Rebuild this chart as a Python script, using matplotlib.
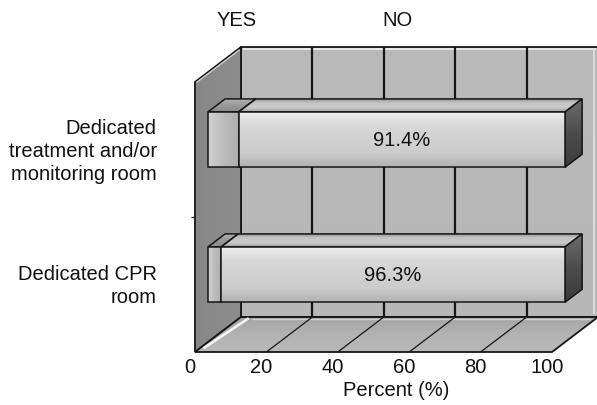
import numpy as np
import matplotlib.pyplot as plt
from matplotlib.patches import Polygon
from matplotlib.colors import LinearSegmentedColormap
from matplotlib.transforms import ScaledTranslation

# survey answers, bottom category first
categories = ["Dedicated CPR\nroom", "Dedicated\ntreatment and/or\nmonitoring room"]
yes_pct = [3.7, 8.6]
no_pct = [96.3, 91.4]
series = ["YES", "NO"]
xticks = [0, 20, 40, 60, 80, 100]

plt.rcParams["font.family"] = ["Liberation Sans", "DejaVu Sans"]
FS = 14.5

# oblique offset of one full unit of depth, in data units (x in %, y in categories)
DX, DY = 12.88, 0.259
Z_FRONT, Z_BACK = 0.283, 0.655
BAR_H = 0.41
EDGE = "#161616"


def proj(x, y, z):
    return (x + DX * z, y + DY * z)


fig = plt.figure(figsize=(5.97, 4.06), dpi=100)
ax = fig.add_axes([195 / 597, 53 / 406, 357 / 597, 270 / 406])
ax.set_facecolor("none")
for s in ax.spines.values():
    s.set_visible(False)

zo = [1.0]


def face(pts, colors, vertical=True, lw=1.1):
    """Flat or gradient-filled polygon with a dark outline."""
    z = zo[0]
    zo[0] += 0.3
    pts = np.asarray(pts)
    base = Polygon(pts, closed=True, facecolor=colors[-1], edgecolor="none",
                   clip_on=False, zorder=z)
    ax.add_patch(base)
    if len(colors) > 1:
        x0, y0 = pts.min(axis=0)
        x1, y1 = pts.max(axis=0)
        cmap = LinearSegmentedColormap.from_list("g", colors)
        grad = np.linspace(0, 1, 128)
        grad = grad[:, None] if vertical else grad[None, :]
        im = ax.imshow(grad, cmap=cmap, extent=(x0, x1, y0, y1), origin="upper",
                       aspect="auto", interpolation="bilinear", zorder=z + 0.1)
        im.set_clip_box(fig.bbox)
        im.set_clip_path(base)
    ax.add_patch(Polygon(pts, closed=True, facecolor="none", edgecolor=EDGE,
                         lw=lw, clip_on=False, zorder=z + 0.2, joinstyle="miter"))


def line(p, q, color=EDGE, lw=1.0):
    z = zo[0]
    zo[0] += 0.3
    ax.plot([p[0], q[0]], [p[1], q[1]], color=color, lw=lw, clip_on=False,
            zorder=z, solid_capstyle="butt")


n = len(categories)

# back wall with its gridlines
face([proj(0, 0, 1), proj(100, 0, 1), proj(100, n, 1), proj(0, n, 1)],
     ["#bababa", "#b7b7b7"], lw=1.3)
line(proj(0.5, n - 0.015, 1), proj(99.4, n - 0.015, 1), color="#f0f0f0", lw=1.2)
line(proj(99.0, n - 0.02, 1), proj(99.0, 0.02, 1), color="#e4e4e4", lw=1.2)
for v in xticks[1:-1]:
    line(proj(v, 0, 1), proj(v, n, 1), lw=1.6)

# side wall
face([proj(0, 0, 0), proj(0, 0, 1), proj(0, n, 1), proj(0, n, 0)],
     ["#878787", "#8d8d8d"], vertical=False, lw=1.3)
line(proj(0, n - 0.012, 0.03), proj(0, n - 0.012, 0.97), color="#cfcfcf", lw=1.0)

# floor with its gridlines
face([proj(0, 0, 0), proj(100, 0, 0), proj(100, 0, 1), proj(0, 0, 1)],
     ["#a4a4a4", "#b3b3b3", "#b8b8b8"], lw=1.3)
line(proj(1.6, 0.012, 0.06), proj(3.2, 0.012, 0.92), color="#f6f6f6", lw=1.8)
line(proj(4, 0.003, 0.93), proj(99, 0.003, 0.93), color="#cfcfcf", lw=1.0)
for v in xticks[1:-1]:
    line(proj(v, 0, 0), proj(v, 0, 1), lw=0.9)

# stacked 3-D bars
styles = [
    (["#b4b4b4", "#9a9a9a", "#8a8a8a"], ["#d2d2d2", "#bcbcbc", "#adadad"]),
    (["#8a8a8a", "#c4c4c4", "#cbcbcb", "#a2a2a2"],
     ["#f0f0f0", "#d8d8d8", "#d2d2d2", "#cccccc", "#b2b2b2"]),
]
for i in range(n):
    y0 = i + 0.5 - BAR_H / 2
    y1 = i + 0.5 + BAR_H / 2
    segs = [(0, yes_pct[i]), (yes_pct[i], yes_pct[i] + no_pct[i])]
    for (a, b), (top_c, front_c) in zip(segs, styles):
        face([proj(a, y1, Z_FRONT), proj(b, y1, Z_FRONT),
              proj(b, y1, Z_BACK), proj(a, y1, Z_BACK)], top_c)
        face([proj(b, y0, Z_FRONT), proj(b, y0, Z_BACK),
              proj(b, y1, Z_BACK), proj(b, y1, Z_FRONT)],
             ["#6e6e6e", "#4c4c4c", "#3c3c3c"])
        face([proj(a, y0, Z_FRONT), proj(b, y0, Z_FRONT),
              proj(b, y1, Z_FRONT), proj(a, y1, Z_FRONT)],
             front_c, vertical=(a > 0))
    a, b = segs[1]
    cx, cy = proj((a + b) / 2, i + 0.5, Z_FRONT)
    ax.text(cx, cy, f"{no_pct[i]:.1f}%", ha="center", va="center",
            fontsize=FS, color="#111111", zorder=zo[0] + 1)

ax.set_xlim(0, 100)
ax.set_ylim(0, n)

ax.set_xticks(xticks, [str(v) for v in xticks])
ax.set_yticks([i + 0.5 for i in range(n)], categories)
ax.set_yticks([1], minor=True)
ax.tick_params(axis="x", length=0, pad=3.5, labelsize=FS, labelcolor="#111111")
ax.tick_params(axis="y", which="major", length=0, pad=27.5, labelsize=FS,
               labelcolor="#111111")
ax.tick_params(axis="y", which="minor", length=3, width=0.9, color=EDGE)
xshift = ScaledTranslation(-5 / 100, 0, fig.dpi_scale_trans)
for lab in ax.get_xticklabels():
    lab.set_transform(lab.get_transform() + xshift)
yshift = ScaledTranslation(0, 3 / 100, fig.dpi_scale_trans)
for lab in ax.get_yticklabels():
    lab.set_linespacing(1.25)
    lab.set_transform(lab.get_transform() + yshift)

ax.set_xlabel("Percent (%)", fontsize=FS, color="#111111")
ax.xaxis.set_label_coords(0.563, -0.105)

# legend entries above the chart
fig.text(237 / 597, 1 - 21 / 406, series[0], ha="center", va="center",
         fontsize=FS, color="#111111")
fig.text(397 / 597, 1 - 21 / 406, series[1], ha="center", va="center",
         fontsize=FS, color="#111111")

fig.savefig("out.png", dpi=100, facecolor="white")
